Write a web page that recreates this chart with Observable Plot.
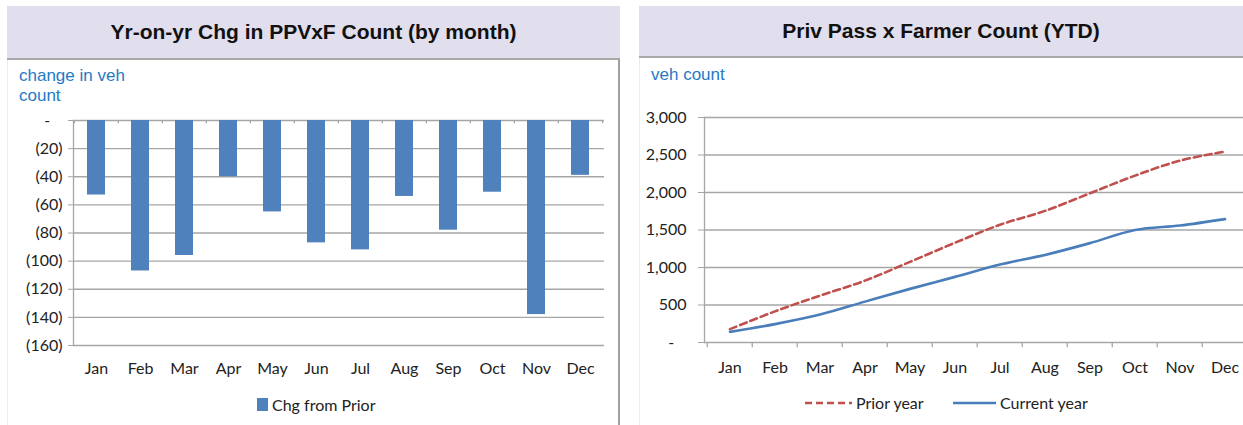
<!DOCTYPE html>
<html><head><meta charset="utf-8">
<script src="https://cdn.jsdelivr.net/npm/d3@7"></script>
<script src="https://cdn.jsdelivr.net/npm/@observablehq/plot@0.6"></script>
<style>
body{margin:0;width:1243px;height:425px;overflow:hidden;position:relative;background:#fff;font-family:Lato,sans-serif;}
.tbar{position:absolute;background:#e1deed;border-bottom:2px solid #a8a8a8;display:flex;align-items:center;justify-content:center;font:bold 21px "Liberation Sans",Arial,sans-serif;color:#111;box-sizing:border-box;}
.vline{position:absolute;width:0;}
.ytitle{position:absolute;font:17px "Liberation Sans",Arial,sans-serif;color:#1f7ac4;line-height:20px;}
.chart{position:absolute;}
.chart svg{max-width:none !important;}
.leg{position:absolute;}
</style></head>
<body>
<div class="tbar" style="left:7px;top:6px;width:613px;height:54px;">Yr-on-yr Chg in PPVxF Count (by month)</div>
<div class="tbar" style="left:639px;top:6px;width:604px;height:52px;">Priv Pass x Farmer Count (YTD)</div>
<div class="vline" style="left:7px;top:60px;height:365px;border-left:1px solid #ececec;"></div>
<div class="vline" style="left:618px;top:60px;height:365px;border-left:2px solid #a0a0a0;"></div>
<div class="vline" style="left:639px;top:58px;height:367px;border-left:1px solid #ececec;"></div>
<div class="ytitle" style="left:19px;top:66px;">change in veh<br>count</div>
<div class="ytitle" style="left:651px;top:65px;">veh count</div>
<div id="left" class="chart" style="left:0;top:105px;width:619px;"></div>
<div id="right" class="chart" style="left:637px;top:105px;width:613px;"></div>
<div id="legL" class="leg" style="left:250px;top:392px;"></div>
<div id="legR" class="leg" style="left:800px;top:390px;"></div>
<script>
const months = ["Jan","Feb","Mar","Apr","May","Jun","Jul","Aug","Sep","Oct","Nov","Dec"];
const chgFromPrior = [-53,-107,-96,-40,-65,-87,-92,-54,-78,-51,-138,-39];
const priorYear = [178,415,625,825,1075,1330,1570,1755,1990,2225,2425,2545];
const currentYear = [142,245,372,545,715,875,1040,1168,1325,1500,1560,1645];
const leftTicks = [0,-20,-40,-60,-80,-100,-120,-140,-160];
const rightTicks = [0,500,1000,1500,2000,2500,3000];

const gridColor = "#a6a6a6";
const textColor = "#222";
const font = {fontFamily: "Lato, sans-serif", fontSize: "16px", color: textColor, background: "transparent", overflow: "visible"};

const leftData = months.map((m, i) => ({month: m, value: chgFromPrior[i]}));
const L = {width: 619, height: 280, ml: 73, mr: 15, mt: 15, mb: 40};
const stepL = (L.width - L.ml - L.mr) / months.length;
const fmtL = v => v === 0 ? "-\u00a0\u00a0\u00a0" : `(${-v})`;

const left = Plot.plot({
  width: L.width, height: L.height,
  marginLeft: L.ml, marginRight: L.mr, marginTop: L.mt, marginBottom: L.mb,
  style: font,
  x: {type: "band", domain: months, paddingInner: 0.59, paddingOuter: 0.295, axis: null},
  y: {domain: [-160, 0], axis: null},
  marks: [
    Plot.ruleY(leftTicks, {stroke: gridColor, strokeWidth: 1.3}),
    Plot.frame({anchor: "left", stroke: gridColor, strokeWidth: 1.3}),
    Plot.axisY(leftTicks, {anchor: "left", tickSize: 5, tickPadding: 6, tickFormat: fmtL, stroke: gridColor, fill: textColor, label: null}),
    Plot.barY(leftData, {x: "month", y: "value", fill: "#4f81bd"}),
    Plot.ruleX(months, {x: d => d, dx: -stepL / 2, y1: 0, y2: -2.3, stroke: gridColor, strokeWidth: 1.3}),
    Plot.ruleX(months.slice(-1), {x: d => d, dx: stepL / 2, y1: 0, y2: -2.3, stroke: gridColor, strokeWidth: 1.3}),
    Plot.axisX({anchor: "bottom", tickSize: 0, tickPadding: 17, fill: textColor, label: null})
  ]
});
document.getElementById("left").append(left);

const R = {width: 613, height: 280, ml: 67, mr: 0, mt: 12, mb: 43};
const stepR = (R.width - R.ml - R.mr) / months.length;
const fmtR = v => v === 0 ? "-\u00a0\u00a0\u00a0" : d3.format(",")(v);
const priorData = months.map((m, i) => ({month: m, value: priorYear[i]}));
const currentData = months.map((m, i) => ({month: m, value: currentYear[i]}));

const right = Plot.plot({
  width: R.width, height: R.height,
  marginLeft: R.ml, marginRight: R.mr, marginTop: R.mt, marginBottom: R.mb,
  style: font,
  x: {type: "band", domain: months, padding: 0, axis: null},
  y: {domain: [0, 3000], axis: null},
  marks: [
    Plot.ruleY(rightTicks, {stroke: gridColor, strokeWidth: 1.3}),
    Plot.frame({anchor: "left", stroke: gridColor, strokeWidth: 1.3}),
    Plot.axisY(rightTicks, {anchor: "left", tickSize: 6, tickPadding: 12, tickFormat: fmtR, stroke: gridColor, fill: textColor, label: null}),
    Plot.ruleX(months, {x: d => d, dx: -stepR / 2, y1: 0, y2: -70, stroke: gridColor, strokeWidth: 1.3}),
    Plot.line(priorData, {x: "month", y: "value", stroke: "#c0504d", strokeWidth: 2.6, strokeDasharray: "7,4", curve: "catmull-rom"}),
    Plot.line(currentData, {x: "month", y: "value", stroke: "#4a7ebb", strokeWidth: 2.6, curve: "catmull-rom"}),
    Plot.axisX({anchor: "bottom", tickSize: 0, tickPadding: 19, fill: textColor, label: null})
  ]
});
document.getElementById("right").append(right);

// legends
const legL = d3.select("#legL").append("svg").attr("width", 140).attr("height", 26)
  .style("font-family", "Lato, sans-serif").style("font-size", "16px");
legL.append("rect").attr("x", 7).attr("y", 6).attr("width", 11).attr("height", 13).attr("fill", "#4f81bd");
legL.append("text").attr("x", 22).attr("y", 13).attr("dy", "0.35em").attr("fill", textColor).text("Chg from Prior");

const legR = d3.select("#legR").append("svg").attr("width", 300).attr("height", 26)
  .style("font-family", "Lato, sans-serif").style("font-size", "16px");
legR.append("line").attr("x1", 5).attr("x2", 52).attr("y1", 13).attr("y2", 13)
  .attr("stroke", "#c0504d").attr("stroke-width", 2.6).attr("stroke-dasharray", "7,4");
legR.append("text").attr("x", 56).attr("y", 13).attr("dy", "0.35em").attr("fill", textColor).text("Prior year");
legR.append("line").attr("x1", 153).attr("x2", 196).attr("y1", 13).attr("y2", 13)
  .attr("stroke", "#4a7ebb").attr("stroke-width", 2.6);
legR.append("text").attr("x", 200).attr("y", 13).attr("dy", "0.35em").attr("fill", textColor).text("Current year");
</script>
</body></html>
